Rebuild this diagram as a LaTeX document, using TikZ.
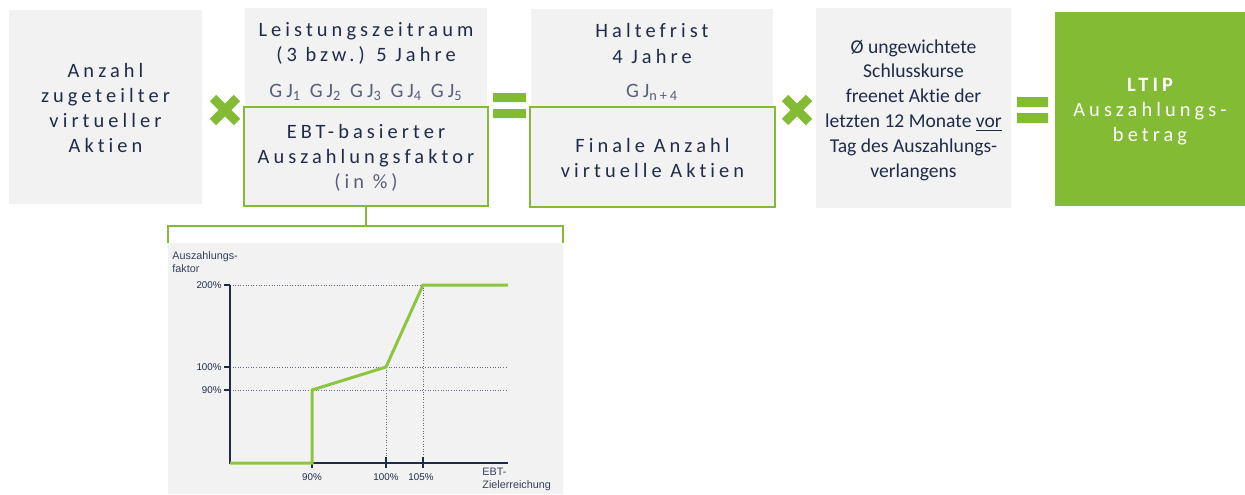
\documentclass[tikz,border=0pt]{standalone}
\usepackage{fontspec}
\setmainfont{Carlito}[Ligatures=NoCommon]
\newfontfamily\spfont[LetterSpace=20,Ligatures=NoCommon]{Carlito}
\newfontfamily\chfont{Liberation Sans}
\definecolor{navy}{RGB}{31,43,72}
\definecolor{lgreen}{RGB}{132,187,52}
\definecolor{boxgray}{RGB}{242,242,242}
\definecolor{chgreen}{RGB}{140,198,63}
\begin{document}
\begin{tikzpicture}[x=0.5pt,y=-0.5pt,
  box/.style={fill=boxgray, draw=none, inner sep=0pt, outer sep=0pt},
  gbox/.style={fill=boxgray, draw=lgreen, line width=1pt, inner sep=0pt, outer sep=0pt},
  t/.style={font=\spfont\fontsize{10.2}{12}\selectfont, text=navy, anchor=base, inner sep=0pt},
  tg/.style={t, text=navy!75},
  tn/.style={font=\fontsize{9.8}{12}\selectfont, text=navy, anchor=base, inner sep=0pt},
  tw/.style={t, text=white},
  times/.style={draw=lgreen, line width=4.5pt},
  eqbar/.style={fill=lgreen, draw=none},
  link/.style={draw=lgreen, line width=1pt},
  ct/.style={font=\chfont\fontsize{4.9}{5.5}\selectfont, text=navy, inner sep=0pt},
  cl/.style={font=\chfont\fontsize{5.4}{6.5}\selectfont, text=navy!90, inner sep=0pt, anchor=north west, align=left},
  axis/.style={draw=navy, line width=1pt},
  grid/.style={draw=navy!70, line width=0.3pt, densely dotted},
  curve/.style={draw=chgreen, line width=1.5pt}
]
\useasboundingbox (0,0) rectangle (1245,494);

% boxes
\node[box, minimum width=96.5pt, minimum height=97pt] (b1) at (105.5,107) {};
\node[box, minimum width=121pt, minimum height=49pt] (b2t) at (366,57) {};
\node[gbox, minimum width=122pt, minimum height=49.5pt] (b2) at (366,156.5) {};
\node[box, minimum width=121pt, minimum height=49pt] (b3t) at (652,58) {};
\node[gbox, minimum width=122.5pt, minimum height=50pt] (b3) at (652.5,157) {};
\node[box, minimum width=97.5pt, minimum height=100pt] (b4) at (913.5,108) {};
\node[fill=lgreen, draw=none, inner sep=0pt, minimum width=95pt, minimum height=97pt] (b5) at (1150,109) {};

% texts box 1
\node[t] at (105.5,77) {Anzahl};
\node[t] at (105.5,102) {zugeteilter};
\node[t] at (105.5,127) {virtueller};
\node[t] at (105.5,152) {Aktien};

% box 2
\node[t] at (366,36) {Leistungszeitraum};
\node[t] at (366,61) {(3 bzw.) 5 Jahre};
\node[tg] at (366,97) {GJ\textsubscript{1} GJ\textsubscript{2} GJ\textsubscript{3} GJ\textsubscript{4} GJ\textsubscript{5}};
\node[t] at (366,138) {EBT-basierter};
\node[t] at (366,163) {Auszahlungsfaktor};
\node[tg] at (366,188) {(in \%)};

% box 3
\node[t] at (652,37) {Haltefrist};
\node[t] at (652,63) {4 Jahre};
\node[tg] at (652,97) {GJ\textsubscript{n+4}};
\node[t] at (652.5,152) {Finale Anzahl};
\node[t] at (652.5,177) {virtuelle Aktien};

% box 4
\node[tn] at (913.5,53) {Ø ungewichtete};
\node[tn] at (913.5,77.8) {Schlusskurse};
\node[tn] at (913.5,102.6) {freenet Aktie der};
\node[tn] at (913.5,127.4) {letzten 12 Monate \underline{vor}};
\node[tn] at (913.5,152.2) {Tag des Auszahlungs-};
\node[tn] at (913.5,177) {verlangens};

% box 5
\node[tw, font=\spfont\bfseries\fontsize{10.2}{12}\selectfont] at (1150,91) {LTIP};
\node[tw] at (1150,116) {Auszahlungs-};
\node[tw] at (1150,141) {betrag};

% operators
\draw[times] (213,98) -- (237,122) (213,122) -- (237,98);
\draw[times] (785,98) -- (809,122) (785,122) -- (809,98);
\path[eqbar] (493,93) rectangle (526,102) (493,109) rectangle (526,118);
\path[eqbar] (1017,97) rectangle (1048,107) (1017,113) rectangle (1048,123);

% link to chart
\coordinate (lk) at (366,226);
\coordinate (pl) at (168,243);
\coordinate (pr) at (563,243);
\draw[link] (b2.south) -- (lk);
\draw[link] (pl) -- (168,226) -- (563,226) -- (pr);

% chart panel
\fill[boxgray] (168,243) rectangle (563,494);
\draw[grid] (230,285) -- (508,285);
\draw[grid] (230,367) -- (508,367);
\draw[grid] (230,390) -- (508,390);
\draw[grid] (386,367) -- (386,463);
\draw[grid] (423,285) -- (423,463);
\draw[axis] (230,285) -- (230,463) -- (508,463);
\draw[axis] (224,285) -- (230,285) (224,367) -- (230,367) (224,390) -- (230,390);
\draw[axis] (312,457) -- (312,468) (386,457) -- (386,468) (423,457) -- (423,468);
\draw[curve] (230,463) -- (312,463) -- (312,390) -- (386,367) -- (423,285) -- (508,285);
\node[ct, anchor=east] at (222,285) {200\%};
\node[ct, anchor=east] at (222,367) {100\%};
\node[ct, anchor=east] at (222,390) {90\%};
\node[ct] at (312,477) {90\%};
\node[ct] at (386,477) {100\%};
\node[ct] at (421,477) {105\%};
\node[cl] at (172,251) {Auszahlungs-\\faktor};
\node[cl] at (482,468) {EBT-\\Zielerreichung};
\end{tikzpicture}
\end{document}
